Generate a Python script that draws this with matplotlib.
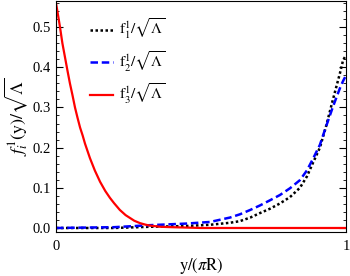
import numpy as np
import matplotlib.pyplot as plt

plt.rcParams['font.family'] = 'Liberation Serif'
plt.rcParams['mathtext.fontset'] = 'stix'

# values
x1 = [0.0, 0.2, 0.324, 0.45, 0.531, 0.6, 0.634, 0.67, 0.703, 0.738, 0.772,
      0.807, 0.841, 0.865, 0.886, 0.91, 0.93, 0.955, 0.979, 0.99, 1.0]
f1 = [0.0, 0.0, 0.003, 0.005, 0.008, 0.013, 0.017, 0.026, 0.037, 0.048, 0.061,
      0.077, 0.1, 0.128, 0.162, 0.2, 0.25, 0.32, 0.385, 0.418, 0.43]
x2 = [0.0, 0.2, 0.324, 0.45, 0.531, 0.6, 0.634, 0.67, 0.703, 0.738, 0.772,
      0.807, 0.841, 0.865, 0.886, 0.91, 0.93, 0.955, 0.979, 0.99, 1.0]
f2 = [0.0, 0.002, 0.007, 0.011, 0.015, 0.026, 0.034, 0.045, 0.056, 0.069, 0.082,
      0.099, 0.119, 0.143, 0.172, 0.207, 0.25, 0.302, 0.348, 0.366, 0.38]
x3 = [0.0, 0.007, 0.0138, 0.022, 0.031, 0.04, 0.048, 0.057, 0.0655, 0.074,
      0.083, 0.092, 0.1, 0.117, 0.134, 0.152, 0.17, 0.186, 0.2, 0.22, 0.24,
      0.255, 0.27, 0.29, 0.31, 0.324, 0.36, 0.4, 0.45, 0.5, 1.0]
f3 = [0.56, 0.53, 0.5, 0.46, 0.425, 0.39, 0.36, 0.33, 0.30, 0.275,
      0.25, 0.23, 0.21, 0.174, 0.143, 0.115, 0.092, 0.075, 0.062, 0.045, 0.032,
      0.025, 0.018, 0.012, 0.008, 0.006, 0.003, 0.002, 0.001, 0.0, 0.0]

fig = plt.figure(figsize=(3.5, 2.76), dpi=100)
ax = fig.add_axes([0.16, 0.1594, 0.8286, 0.837])

ax.plot(x1, f1, color='black', ls=(0, (1, 1)), lw=1.8,
        label=r'$\mathrm{f}_1^1/\sqrt{\Lambda}$')
ax.plot(x2, f2, color='blue', ls=(0, (3, 1.5)), lw=1.8,
        label=r'$\mathrm{f}_2^1/\sqrt{\Lambda}$')
ax.plot(x3, f3, color='red', lw=1.6,
        label=r'$\mathrm{f}_3^1/\sqrt{\Lambda}$')

ax.set_xlim(0, 1)
ax.set_ylim(-0.01, 0.565)
ax.set_xticks([0, 1])
ax.set_xticklabels(['0', '1'])
ax.set_yticks(np.arange(0, 0.51, 0.1))
ax.set_yticklabels(['0.0', '0.1', '0.2', '0.3', '0.4', '0.5'])
ax.set_yticks(np.arange(0, 0.561, 0.02), minor=True)
ax.tick_params(axis='y', which='both', direction='in', right=True, labelsize=10.5)
ax.tick_params(axis='y', which='major', length=5)
ax.tick_params(axis='y', which='minor', length=2.5)
ax.tick_params(axis='x', length=0, labelsize=10.5, pad=6)

ax.set_xlabel(r'$\mathrm{y}/(\pi\mathrm{R})$', fontsize=12, labelpad=2)
ax.set_ylabel(r'$f_i^{1}(\mathrm{y})/\sqrt{\Lambda}$', fontsize=13, labelpad=2)

ax.legend(loc='upper left', bbox_to_anchor=(0.07, 0.99), frameon=False,
          fontsize=11, handlelength=1.5, labelspacing=0.55, handletextpad=0.4)

fig.savefig('out.png', dpi=100)
